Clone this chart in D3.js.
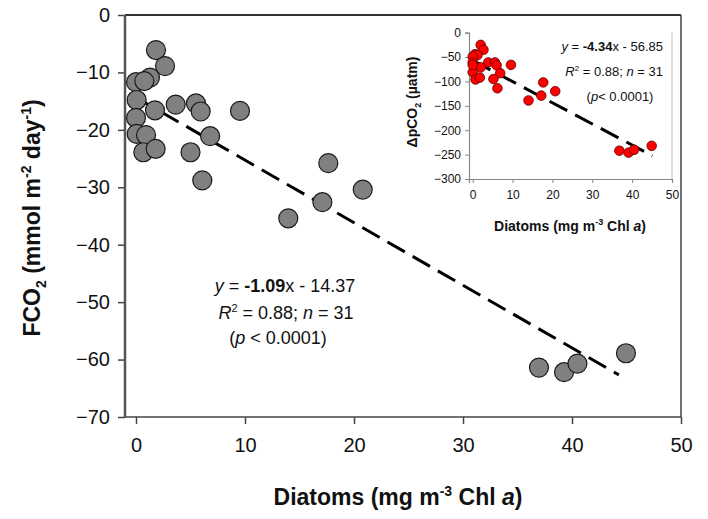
<!DOCTYPE html>
<html>
<head>
<meta charset="utf-8">
<script src="https://cdn.jsdelivr.net/npm/d3@7"></script>
<style>
  body { margin: 0; background: #fff; }
  svg { font-family: "Liberation Sans", Arial, sans-serif; }
</style>
</head>
<body>
<div id="chart"></div>
<script>
// main panel: diatoms vs FCO2
const mainDiatoms = [1.83, 2.66, 1.28, 0, 0.76, 0.06, 1.74, 3.64, 5.5, 5.93, 9.54, 0, 0.06, 0.92,
  0.67, 1.8, 6.8, 5.0, 6.08, 17.64, 20.8, 17.1, 13.97, 36.97, 39.27, 40.5, 44.95];
const mainFlux = [-6.1, -8.9, -10.9, -11.7, -11.5, -14.8, -16.6, -15.6, -15.4, -16.8, -16.7, -17.9, -20.7, -20.9,
  -23.9, -23.3, -21.1, -23.9, -28.8, -25.8, -30.4, -32.6, -35.4, -61.4, -62.2, -60.7, -58.9];

// inset: diatoms vs delta pCO2
const insetDiatoms = [2.0, 2.7, 0.6, 1.2, 0, 0, 3.9, 5.6, 6.0, 9.6, 0, 2.0, 6.9, 0.7, 1.8, 5.2, 6.2,
  14.0, 17.7, 17.2, 20.7, 0, 36.8, 39.1, 40.5, 44.9];
const insetDpco2 = [-25, -35, -44, -46, -49, -61, -61, -61, -67, -66, -81, -71, -83, -96, -92, -95, -114,
  -139, -102, -129, -120, -66, -242, -246, -240, -232];

const mainTicksX = [0, 10, 20, 30, 40, 50];
const mainTicksY = [0, -10, -20, -30, -40, -50, -60, -70];
const insetTicksX = [0, 10, 20, 30, 40, 50];
const insetTicksY = [0, -50, -100, -150, -200, -250, -300];

const mainFit = {slope: -1.09, intercept: -14.37, xEnd: 44.3};
const insetFit = {slope: -4.34, intercept: -56.85, xEnd: 45.1};

const width = 708, height = 519;
const svg = d3.select('#chart').append('svg')
    .attr('width', width)
    .attr('height', height);

// ---- main panel ----
const box = {left: 125, right: 681, top: 15, bottom: 417};
const x = d3.scaleLinear().domain([-1.01, 50]).range([box.left, box.right]);
const y = d3.scaleLinear().domain([-70, 0]).range([box.bottom, box.top]);

const xAxis = svg.append('g')
    .attr('transform', `translate(0,${box.bottom})`)
    .call(d3.axisBottom(x).tickValues(mainTicksX).tickSize(7).tickPadding(14).tickFormat(d3.format('d')));
const yAxis = svg.append('g')
    .attr('transform', `translate(${box.left},0)`)
    .call(d3.axisLeft(y).tickValues(mainTicksY).tickSize(7).tickPadding(8).tickFormat(d3.format('d')));

[xAxis, yAxis].forEach(a => {
  a.select('.domain').remove();
  a.selectAll('line').attr('stroke', '#444').attr('stroke-width', 1.5);
  a.selectAll('text').attr('font-size', 20).attr('fill', '#111').attr('font-family', '"Liberation Sans", Arial, sans-serif');
});

// frame
svg.append('line').attr('x1', box.left).attr('x2', box.right).attr('y1', box.top).attr('y2', box.top)
    .attr('stroke', '#333').attr('stroke-width', 2);
svg.append('line').attr('x1', box.left).attr('x2', box.left).attr('y1', box.top).attr('y2', box.bottom)
    .attr('stroke', '#555').attr('stroke-width', 2.5);
svg.append('line').attr('x1', box.right).attr('x2', box.right).attr('y1', box.top).attr('y2', box.bottom)
    .attr('stroke', '#444').attr('stroke-width', 1.5);
svg.append('line').attr('x1', box.left).attr('x2', box.right).attr('y1', box.bottom).attr('y2', box.bottom)
    .attr('stroke', '#444').attr('stroke-width', 1.5);

// regression line
svg.append('line')
    .attr('x1', x(0)).attr('y1', y(mainFit.intercept))
    .attr('x2', x(mainFit.xEnd)).attr('y2', y(mainFit.slope * mainFit.xEnd + mainFit.intercept))
    .attr('stroke', '#000').attr('stroke-width', 3).attr('stroke-dasharray', '20,9');

svg.append('g').selectAll('circle')
    .data(mainDiatoms.map((d, i) => [d, mainFlux[i]]))
    .join('circle')
    .attr('cx', d => x(d[0]))
    .attr('cy', d => y(d[1]))
    .attr('r', 9.5)
    .attr('fill', '#808080')
    .attr('stroke', '#1a1a1a')
    .attr('stroke-width', 1.2);

// main annotation
const ann = svg.append('g').attr('font-size', 18).attr('fill', '#111');
const a1 = ann.append('text').attr('x', 285).attr('y', 292).attr('text-anchor', 'middle');
a1.append('tspan').attr('font-style', 'italic').text('y');
a1.append('tspan').text(' = ');
a1.append('tspan').attr('font-weight', 'bold').text('-1.09');
a1.append('tspan').text('x - 14.37');
const a2 = ann.append('text').attr('x', 286).attr('y', 319).attr('text-anchor', 'middle');
a2.append('tspan').attr('font-style', 'italic').text('R');
a2.append('tspan').attr('font-size', 11).attr('dy', -7).text('2');
a2.append('tspan').attr('dy', 7).text(' = 0.88; ');
a2.append('tspan').attr('font-style', 'italic').text('n');
a2.append('tspan').text(' = 31');
const a3 = ann.append('text').attr('x', 278).attr('y', 344).attr('text-anchor', 'middle');
a3.append('tspan').text('(');
a3.append('tspan').attr('font-style', 'italic').text('p');
a3.append('tspan').text(' < 0.0001)');

// main axis titles
const xt = svg.append('text').attr('x', 398).attr('y', 505).attr('text-anchor', 'middle')
    .attr('font-size', 23).attr('font-weight', 'bold').attr('fill', '#111');
xt.append('tspan').text('Diatoms (mg m');
xt.append('tspan').attr('font-size', 14).attr('dy', -9).text('-3');
xt.append('tspan').attr('dy', 9).text(' Chl ');
xt.append('tspan').attr('font-style', 'italic').text('a');
xt.append('tspan').text(')');

const yt = svg.append('text').attr('transform', 'translate(40,218) rotate(-90)').attr('text-anchor', 'middle')
    .attr('font-size', 23).attr('font-weight', 'bold').attr('fill', '#111');
yt.append('tspan').text('FCO');
yt.append('tspan').attr('font-size', 14).attr('dy', 6).text('2');
yt.append('tspan').attr('dy', -6).text(' (mmol m');
yt.append('tspan').attr('font-size', 14).attr('dy', -9).text('-2');
yt.append('tspan').attr('dy', 9).text(' day');
yt.append('tspan').attr('font-size', 14).attr('dy', -9).text('-1');
yt.append('tspan').attr('dy', 9).text(')');

// ---- inset ----
const ibox = {left: 469, right: 672, top: 32.7, bottom: 179};
const ix = d3.scaleLinear().domain([-0.93, 50]).range([ibox.left, ibox.right]);
const iy = d3.scaleLinear().domain([-300, 0]).range([ibox.bottom, ibox.top]);

const ixAxis = svg.append('g')
    .attr('transform', `translate(0,${ibox.bottom})`)
    .call(d3.axisBottom(ix).tickValues(insetTicksX).tickSize(4).tickPadding(7).tickFormat(d3.format('d')));
const iyAxis = svg.append('g')
    .attr('transform', `translate(${ibox.left},0)`)
    .call(d3.axisLeft(iy).tickValues(insetTicksY).tickSize(4).tickPadding(4).tickFormat(d3.format('d')));
[ixAxis, iyAxis].forEach(a => {
  a.select('.domain').attr('stroke', '#888').attr('stroke-width', 1.2);
  a.selectAll('line').attr('stroke', '#888');
  a.selectAll('text').attr('font-size', 12).attr('fill', '#111').attr('font-family', '"Liberation Sans", Arial, sans-serif');
});
svg.append('line').attr('x1', ibox.right).attr('x2', ibox.right).attr('y1', ibox.top).attr('y2', ibox.bottom)
    .attr('stroke', '#bbb').attr('stroke-width', 1);

svg.append('line')
    .attr('x1', ix(0)).attr('y1', iy(insetFit.intercept))
    .attr('x2', ix(insetFit.xEnd)).attr('y2', iy(insetFit.slope * insetFit.xEnd + insetFit.intercept))
    .attr('stroke', '#000').attr('stroke-width', 3).attr('stroke-dasharray', '20,9');

svg.append('g').selectAll('circle')
    .data(insetDiatoms.map((d, i) => [d, insetDpco2[i]]))
    .join('circle')
    .attr('cx', d => ix(d[0]))
    .attr('cy', d => iy(d[1]))
    .attr('r', 4.8)
    .attr('fill', '#ff0000')
    .attr('stroke', '#5a0000')
    .attr('stroke-width', 0.8);

const iann = svg.append('g').attr('font-size', 13).attr('fill', '#111');
const b1 = iann.append('text').attr('x', 663).attr('y', 51).attr('text-anchor', 'end');
b1.append('tspan').attr('font-style', 'italic').text('y');
b1.append('tspan').text(' = ');
b1.append('tspan').attr('font-weight', 'bold').text('-4.34');
b1.append('tspan').text('x - 56.85');
const b2 = iann.append('text').attr('x', 663).attr('y', 76).attr('text-anchor', 'end');
b2.append('tspan').attr('font-style', 'italic').text('R');
b2.append('tspan').attr('font-size', 8).attr('dy', -5).text('2');
b2.append('tspan').attr('dy', 5).text(' = 0.88; ');
b2.append('tspan').attr('font-style', 'italic').text('n');
b2.append('tspan').text(' = 31');
const b3 = iann.append('text').attr('x', 620).attr('y', 101).attr('text-anchor', 'middle');
b3.append('tspan').text('(');
b3.append('tspan').attr('font-style', 'italic').text('p');
b3.append('tspan').text('< 0.0001)');

const ixt = svg.append('text').attr('x', 570).attr('y', 231).attr('text-anchor', 'middle')
    .attr('font-size', 14).attr('font-weight', 'bold').attr('fill', '#111');
ixt.append('tspan').text('Diatoms (mg m');
ixt.append('tspan').attr('font-size', 9).attr('dy', -6).text('-3');
ixt.append('tspan').attr('dy', 6).text(' Chl ');
ixt.append('tspan').attr('font-style', 'italic').text('a');
ixt.append('tspan').text(')');

const iyt = svg.append('text').attr('transform', 'translate(417,102) rotate(-90)').attr('text-anchor', 'middle')
    .attr('font-size', 14).attr('font-weight', 'bold').attr('fill', '#111');
iyt.append('tspan').text('ΔpCO');
iyt.append('tspan').attr('font-size', 9).attr('dy', 4).text('2');
iyt.append('tspan').attr('dy', -4).text(' (µatm)');
</script>
</body>
</html>
